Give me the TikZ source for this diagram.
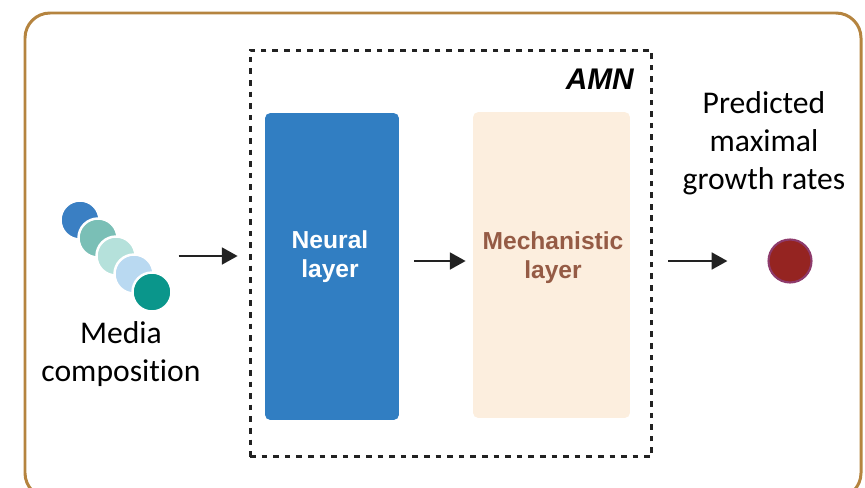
\documentclass[tikz,border=0pt]{standalone}
\usepackage{fontspec}
\setmainfont{Carlito}[Ligatures={NoCommon}]
\newfontfamily\layerfont{Liberation Sans}
\usetikzlibrary{arrows.meta,positioning}
\definecolor{framebrown}{HTML}{B5843F}
\definecolor{arrowgrey}{HTML}{222222}
\definecolor{neuralblue}{HTML}{317EC2}
\definecolor{mechbeige}{HTML}{FCEEDE}
\definecolor{mechbrown}{HTML}{955B45}
\definecolor{spotred}{HTML}{952421}
\definecolor{spotrim}{HTML}{8E3B6C}

\begin{document}
\begin{tikzpicture}[x=0.02cm,y=-0.02cm,>={Triangle[length=9pt,width=9.5pt]},
    flow/.style={->,line width=1.6pt,draw=arrowgrey},
    drop/.style={circle,minimum size=0.78cm,inner sep=0pt,draw=white,line width=1.4pt},
    layer box/.style={rounded corners=3pt,inner sep=0pt,minimum width=2.68cm,minimum height=6.14cm},
    layer text/.style={font=\layerfont\fontsize{14}{16.5}\selectfont\bfseries,align=center},
    plain text/.style={font=\fontsize{18}{21.5}\selectfont,align=center}]
    \useasboundingbox (0,0) rectangle (865,487);

    % frame
    \draw[framebrown,line width=1.7pt,rounded corners=0.5cm] (25,13) rectangle (861,498);

    % AMN block
    \node[draw=arrowgrey,line width=1.7pt,dash pattern=on 3.2pt off 3.4pt,minimum width=8.04cm,minimum height=8.14cm,inner sep=0pt] (amn) at (451,253.5) {};
    \node[anchor=east,font=\layerfont\fontsize{17}{20}\selectfont\bfseries\itshape] (amnlabel) at (640,79) {AMN};

    \node[layer box,fill=neuralblue] (neural) at (332,266.5) {};
    \node[layer box,fill=mechbeige,minimum width=3.14cm,minimum height=6.12cm] (mech) at (551.5,265) {};
    \node[layer text,text=white] (neurallabel) at (330,257) {Neural\\layer};
    \node[layer text,text=mechbrown] (mechlabel) at (553,258) {Mechanistic\\layer};

    % media
    \node[drop,fill={rgb,255:red,58;green,127;blue,195}] (c1) at (80,220) {};
    \node[drop,fill={rgb,255:red,122;green,191;blue,182}] (c2) at (98,238) {};
    \node[drop,fill={rgb,255:red,181;green,225;blue,219}] (c3) at (116,256) {};
    \node[drop,fill={rgb,255:red,185;green,217;blue,241}] (c4) at (134,274) {};
    \node[drop,fill={rgb,255:red,10;green,150;blue,139}] (c5) at (152,292) {};
    \node[plain text] (media) at (121,354) {Media\\composition};

    % output
    \node[circle,minimum size=0.86cm,inner sep=0pt,fill=spotred,draw=spotrim,line width=1.2pt] (spot) at (790,261) {};
    \node[plain text] (pred) at (764,143) {Predicted\\maximal\\growth rates};

    \draw[flow] ([xshift=0.12cm]c5.east |- c3.east) -- ([xshift=-0.54cm]neural.west |- c3.east);
    \draw[flow] ([xshift=0.3cm]neural.east |- spot) -- ([xshift=-0.14cm]mech.west |- spot);
    \draw[flow] ([xshift=0.76cm]mech.east |- spot) -- ([xshift=-0.8cm]spot.west);
\end{tikzpicture}
\end{document}
